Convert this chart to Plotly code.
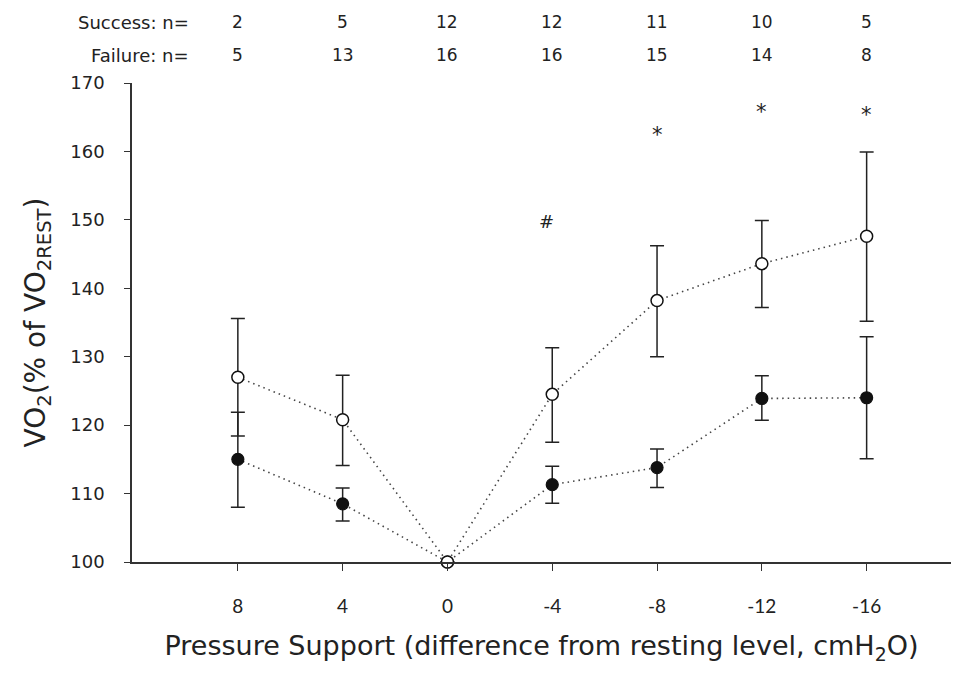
import plotly.graph_objects as go

# ---- data ----
pressure_labels = ["8", "4", "0", "-4", "-8", "-12", "-16"]
success_n = [2, 5, 12, 12, 11, 10, 5]
failure_n = [5, 13, 16, 16, 15, 14, 8]

success_mean = [127.0, 120.8, 100.0, 124.5, 138.2, 143.6, 147.6]
success_upper = [135.6, 127.3, None, 131.3, 146.2, 149.9, 159.9]
success_lower = [118.4, 114.1, None, 117.5, 130.0, 137.2, 135.2]

failure_mean = [115.0, 108.5, 100.0, 111.3, 113.8, 123.9, 124.0]
failure_upper = [121.9, 110.8, None, 114.0, 116.5, 127.2, 132.9]
failure_lower = [108.0, 106.0, None, 108.6, 110.9, 120.7, 115.1]

sig_marks = ["#", "*", "*", "*"]
sig_pos = [3, 4, 5, 6]
sig_y = [149.8, 162.4, 165.7, 165.3]

xs = list(range(len(pressure_labels)))


def err(u, m):
    return [(a - b) if a is not None else float("nan") for a, b in zip(u, m)]


def errm(l, m):
    return [(b - a) if a is not None else float("nan") for a, b in zip(l, m)]


DOT = "1.5px,4px"

fig = go.Figure()

fig.add_trace(go.Scatter(
    x=xs, y=failure_mean, mode="lines+markers",
    line=dict(color="#444444", width=1.6, dash=DOT),
    marker=dict(symbol="circle", size=12, color="#111111",
                line=dict(color="#111111", width=1.2)),
    error_y=dict(type="data", symmetric=False,
                 array=err(failure_upper, failure_mean),
                 arrayminus=errm(failure_lower, failure_mean),
                 color="#222222", thickness=1.5, width=7),
    cliponaxis=False, showlegend=False,
))

fig.add_trace(go.Scatter(
    x=xs, y=success_mean, mode="lines+markers",
    line=dict(color="#444444", width=1.6, dash=DOT),
    marker=dict(symbol="circle", size=12, color="white",
                line=dict(color="#111111", width=1.5)),
    error_y=dict(type="data", symmetric=False,
                 array=err(success_upper, success_mean),
                 arrayminus=errm(success_lower, success_mean),
                 color="#222222", thickness=1.5, width=7),
    cliponaxis=False, showlegend=False,
))

TXT = "#222222"
annotations = []
for x, t, y in zip(sig_pos, sig_marks, sig_y):
    annotations.append(dict(x=x, y=y, xref="x", yref="y", text=t,
                            showarrow=False, xshift=-6 if t == "#" else 0,
                            font=dict(family="DejaVu Sans", size=18 if t == "#" else 21,
                                      color=TXT)))

for x, s, f in zip(xs, success_n, failure_n):
    annotations.append(dict(x=x, y=1.127, xref="x", yref="paper", text=str(s),
                            showarrow=False, yanchor="middle",
                            font=dict(family="DejaVu Sans", size=17, color=TXT)))
    annotations.append(dict(x=x, y=1.058, xref="x", yref="paper", text=str(f),
                            showarrow=False, yanchor="middle",
                            font=dict(family="DejaVu Sans", size=17, color=TXT)))

annotations.append(dict(x=0.072, y=1.127, xref="paper", yref="paper",
                        text="Success: n=", showarrow=False, xanchor="right",
                        yanchor="middle",
                        font=dict(family="DejaVu Sans", size=18, color=TXT)))
annotations.append(dict(x=0.072, y=1.058, xref="paper", yref="paper",
                        text="Failure: n=", showarrow=False, xanchor="right",
                        yanchor="middle",
                        font=dict(family="DejaVu Sans", size=18, color=TXT)))

fig.update_layout(
    width=943, height=657,
    margin=dict(l=124, r=0, t=75, b=103),
    paper_bgcolor="white", plot_bgcolor="white",
    annotations=annotations,
    xaxis=dict(
        range=[-1.01, 6.805], tickmode="array", tickvals=xs, ticktext=pressure_labels,
        automargin=False,
        showgrid=False, zeroline=False, showline=True, linecolor="#333333", linewidth=1.5,
        ticks="outside", ticklen=7, tickcolor="#333333", tickwidth=1.2,
        ticklabelstandoff=19,
        tickfont=dict(family="Lato", size=19, color=TXT),
        title=dict(text="Pressure Support (difference from resting level, cmH<sub>2</sub>O)",
                   font=dict(family="DejaVu Sans", size=27, color=TXT), standoff=28),
    ),
    yaxis=dict(
        range=[100, 170], tickmode="array", tickvals=[100, 110, 120, 130, 140, 150, 160, 170],
        automargin=False,
        showgrid=False, zeroline=False, showline=True, linecolor="#333333", linewidth=1.5,
        ticks="outside", ticklen=6, tickcolor="#333333", tickwidth=1.2,
        ticklabelstandoff=16,
        tickfont=dict(family="DejaVu Sans", size=18, color=TXT),
        title=dict(text="VO<sub>2</sub>(% of VO<sub>2REST</sub>)",
                   font=dict(family="DejaVu Sans", size=28, color=TXT), standoff=16),
    ),
)

fig.write_html("out.html")
